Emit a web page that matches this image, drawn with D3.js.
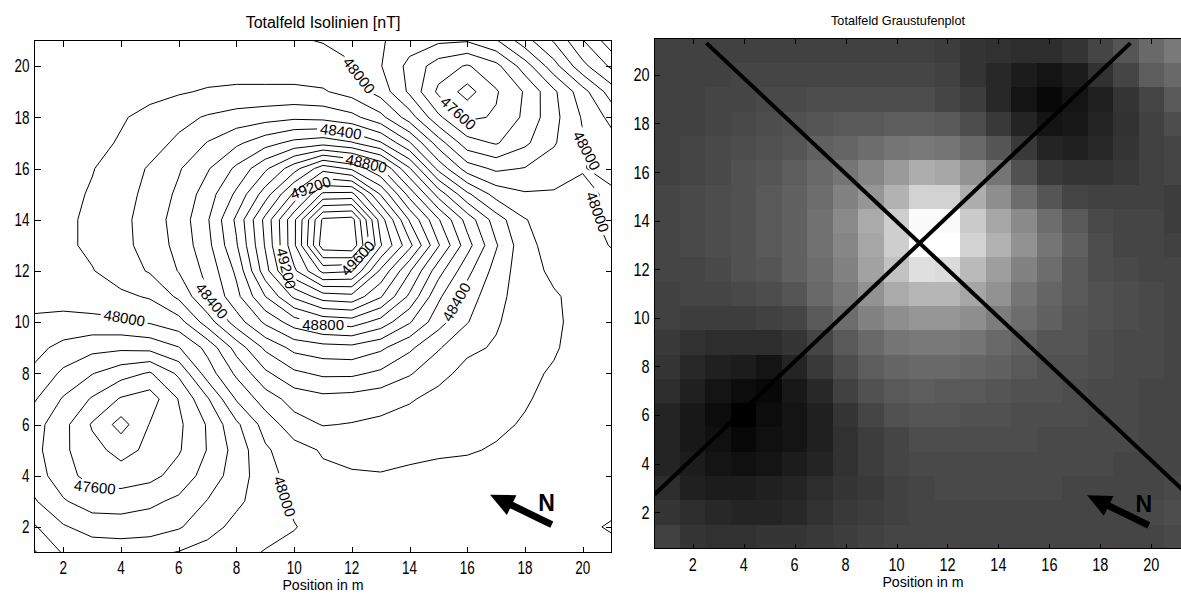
<!DOCTYPE html>
<html><head><meta charset="utf-8">
<script src="https://cdn.jsdelivr.net/npm/d3@7"></script>
<style>
html,body{margin:0;padding:0;background:#fff;}
svg{display:block;}
text{font-family:"Liberation Sans",Arial,Helvetica,sans-serif;fill:#000;}
</style></head><body>
<svg id="chart" width="1181" height="595"></svg>
<script>
// ---------------- DATA ----------------
const xPositions = [1,2,3,4,5,6,7,8,9,10,11,12,13,14,15,16,17,18,19,20,21];
const yPositions = [1,2,3,4,5,6,7,8,9,10,11,12,13,14,15,16,17,18,19,20,21];
// total field [nT], one array per grid row (y = 1 ... 21), x = 1 ... 21
const y01 = [48010,47890,47860,47870,47880,47905,47940,47975,48005,48030,48045,48050,48050,48050,48055,48055,48055,48060,48060,48065,48070];
const y02 = [47910,47810,47760,47740,47750,47790,47860,47930,47970,47995,48040,48055,48060,48060,48060,48060,48060,48060,48065,48080,48110];
const y03 = [47810,47710,47650,47660,47680,47720,47805,47880,47950,48020,48060,48070,48075,48070,48070,48070,48065,48065,48060,48060,48070];
const y04 = [47750,47640,47560,47540,47570,47640,47740,47850,47960,48040,48080,48090,48095,48085,48080,48080,48075,48070,48065,48060,48060];
const y05 = [47730,47620,47530,47470,47520,47590,47705,47840,47985,48060,48110,48130,48130,48120,48110,48105,48095,48080,48070,48060,48055];
const y06 = [47740,47630,47490,47360,47505,47580,47710,47880,48040,48160,48205,48195,48180,48160,48140,48120,48110,48095,48080,48065,48055];
const y07 = [47810,47690,47590,47490,47450,47605,47790,48010,48150,48240,48270,48260,48240,48210,48170,48150,48130,48105,48085,48065,48055];
const y08 = [47880,47780,47705,47640,47590,47720,47950,48120,48280,48380,48420,48420,48380,48310,48230,48170,48150,48110,48095,48070,48060];
const y09 = [47930,47870,47830,47820,47830,47895,48030,48240,48420,48530,48560,48570,48520,48420,48310,48220,48190,48140,48105,48080,48060];
const y10 = [47990,47970,47970,47980,48010,48060,48250,48450,48620,48750,48830,48850,48760,48610,48440,48305,48210,48150,48110,48080,48060];
const y11 = [48020,48040,48060,48080,48110,48220,48395,48570,48800,49020,49150,49170,49010,48780,48520,48350,48230,48150,48110,48070,48050];
const y12 = [48030,48060,48095,48150,48210,48305,48430,48620,48960,49280,49530,49510,49180,48910,48640,48430,48260,48140,48080,48060,48040];
const y13 = [48040,48080,48120,48170,48240,48330,48470,48690,49010,49380,49860,49880,49410,49130,48810,48540,48310,48130,48060,48040,47995];
const y14 = [48040,48080,48120,48170,48250,48340,48490,48720,49030,49380,49820,49840,49350,48990,48710,48460,48250,48105,48050,48030,47970];
const y15 = [48030,48070,48110,48160,48230,48320,48450,48620,48850,49120,49420,49430,49090,48760,48460,48220,48060,48010,48010,48020,47985];
const y16 = [48020,48060,48095,48150,48210,48290,48390,48520,48680,48860,49060,48980,48810,48510,48170,47950,47880,47905,47950,47995,48030];
const y17 = [48010,48040,48070,48110,48160,48220,48305,48380,48460,48530,48560,48510,48410,48210,47950,47740,47690,47780,47890,47990,48060];
const y18 = [48005,48020,48050,48090,48130,48170,48210,48240,48260,48280,48270,48230,48130,47950,47720,47580,47610,47720,47870,48010,48130];
const y19 = [48005,48010,48030,48050,48070,48090,48110,48120,48120,48120,48110,48060,47960,47780,47580,47460,47590,47710,47880,48060,48250];
const y20 = [48010,48015,48020,48030,48035,48040,48050,48050,48050,48050,48040,48005,47905,47770,47650,47590,47670,47850,48060,48270,48420];
const y21 = [48010,48010,48015,48020,48020,48020,48020,48020,48015,48010,47995,47980,47910,47850,47820,47810,47890,48060,48210,48395,48560];
const gridRows = [y01,y02,y03,y04,y05,y06,y07,y08,y09,y10,y11,y12,y13,y14,y15,y16,y17,y18,y19,y20,y21];

const contourLevels = [47400,47500,47600,47700,47800,47900,48000,48100,48200,48300,48400,48500,48600,48700,48800,48900,49000,49100,49200,49300,49400,49500,49600,49700,49800];
const tickValues = [2,4,6,8,10,12,14,16,18,20];

// contour labels: level and approximate anchor (data units)
const labelLevel = [48000,47600,48000,48400,48800,48400,49200,49600,49200,48800,48400,48000,47600,48000,48000];
const labelX     = [4.1,  3.1,  9.7,  7.0,  11.0, 15.6, 9.4,  12.3, 10.8, 12.5, 11.6, 12.2, 15.8, 19.95,20.6];
const labelY     = [10.1, 3.7,  3.2,  10.7, 9.8,  10.8, 12.0, 12.4, 14.9, 16.2, 17.3, 19.6, 18.3, 16.7, 14.3];

// profile lines drawn on the grey-scale plot (data units)
const profileA = [[2.54,21.31],[21.5,2.65]];
const profileB = [[0.5,2.72],[19.18,21.31]];
// north arrows (data units of each panel): tail, tip, letter position
const arrowLeft  = [[18.93,2.09],[16.79,3.26],[18.75,2.95]];
const arrowRight = [[19.90,1.45],[17.48,2.69],[19.71,2.36]];

// ---------------- LAYOUT ----------------
const svg = d3.select('#chart');
const xL = d3.scaleLinear().domain([1,21]).range([34.5,611.5]);
const yL = d3.scaleLinear().domain([1,21]).range([552.5,40.5]);
const xR = d3.scaleLinear().domain([0.5,21.5]).range([654.5,1189.5]);
const yR = d3.scaleLinear().domain([0.5,21.5]).range([548.5,38.5]);

function txt(g, x, y, s, size, opts={}) {
  const sy = opts.sy || 1;
  return g.append('text')
    .attr('transform', `translate(${x},${y}) scale(1,${sy})`)
    .attr('text-anchor', opts.anchor || 'middle')
    .attr('dy', '0.36em')
    .style('font-size', size + 'px')
    .style('font-weight', opts.weight || 'normal')
    .text(s);
}

const defs = svg.append('defs');
defs.append('clipPath').attr('id','clipL').append('rect')
  .attr('x', xL(1)).attr('y', yL(21)).attr('width', xL(21)-xL(1)).attr('height', yL(1)-yL(21));
defs.append('clipPath').attr('id','clipR').append('rect')
  .attr('x', xR(0.5)).attr('y', yR(21.5)).attr('width', xR(21.5)-xR(0.5)).attr('height', yR(0.5)-yR(21.5));

// ---------------- GREY-SCALE PLOT ----------------
const flat = [].concat(...gridRows);
const vMin = d3.min(flat), vMax = d3.max(flat);
const grayOf = v => {
  const k = Math.min(63, Math.floor((v - vMin) / (vMax - vMin) * 64));
  const g = Math.round(k / 63 * 255);
  return `rgb(${g},${g},${g})`;
};
const cells = [];
gridRows.forEach((row, j) => row.forEach((v, i) => cells.push({x: xPositions[i], y: yPositions[j], v})));
const gR = svg.append('g').attr('clip-path','url(#clipR)');
gR.selectAll('rect.cell').data(cells).join('rect').attr('class','cell')
  .attr('x', d => xR(d.x - 0.5)).attr('y', d => yR(d.y + 0.5))
  .attr('width', d => xR(d.x + 0.5) - xR(d.x - 0.5) + 0.4)
  .attr('height', d => yR(d.y - 0.5) - yR(d.y + 0.5) + 0.4)
  .attr('fill', d => grayOf(d.v)).attr('shape-rendering','crispEdges');
[profileA, profileB].forEach(p => {
  gR.append('line').attr('x1', xR(p[0][0])).attr('y1', yR(p[0][1]))
    .attr('x2', xR(p[1][0])).attr('y2', yR(p[1][1]))
    .attr('stroke','#000').attr('stroke-width',4);
});

// ---------------- CONTOUR PLOT ----------------
const contourSets = d3.contours().size([21,21]).thresholds(contourLevels)(flat);
const proj = d3.geoTransform({ point: function(x, y) { this.stream.point(xL(x + 0.5), yL(y + 0.5)); } });
const cpath = d3.geoPath(proj);
const toPx = c => [xL(c[0] + 0.5), yL(c[1] + 0.5)];

// label placement on the computed contour lines
function nearestOnLevel(level, px, py) {
  const cont = contourSets.find(c => c.value === level);
  let best = null;
  if (!cont) return null;
  cont.coordinates.forEach(poly => poly.forEach(ring => {
    const pts = ring.map(toPx);
    for (let i = 0; i < pts.length - 1; i++) {
      const a = pts[i], b = pts[i+1];
      const dx = b[0]-a[0], dy = b[1]-a[1], L2 = dx*dx + dy*dy;
      if (!L2) continue;
      let t = ((px-a[0])*dx + (py-a[1])*dy) / L2; t = Math.max(0, Math.min(1, t));
      const qx = a[0] + t*dx, qy = a[1] + t*dy;
      if (qx < xL(1)+2 || qx > xL(21)-2 || qy < yL(21)+2 || qy > yL(1)-2) continue;
      const d = (qx-px)**2 + (qy-py)**2;
      if (!best || d < best.d) {
        const p0 = pts[Math.max(0, i-1)], p1 = pts[Math.min(pts.length-1, i+2)];
        let ang = Math.atan2(p1[1]-p0[1], p1[0]-p0[0]) * 180 / Math.PI;
        while (ang > 90) ang -= 180;
        while (ang <= -90) ang += 180;
        best = {d, x: qx, y: qy, ang};
      }
    }
  }));
  return best;
}

const gLab = svg.append('g');
const labels = [];
labelLevel.forEach((lev, i) => {
  const p = nearestOnLevel(lev, xL(labelX[i]), yL(labelY[i]));
  if (!p) return;
  const g = gLab.append('g').attr('transform', `translate(${p.x},${p.y}) rotate(${p.ang})`);
  const t = g.append('text').attr('text-anchor','middle').attr('dy','0.36em')
    .style('font-size','15px').text(String(lev));
  const w = t.node().getComputedTextLength();
  labels.push({lev, x: p.x, y: p.y, ang: p.ang, w});
});
const labeledLevels = Array.from(new Set(labels.map(d => d.lev)));
labeledLevels.forEach(lev => {
  const m = defs.append('mask').attr('id', 'mask' + lev).attr('maskUnits','userSpaceOnUse')
    .attr('x',0).attr('y',0).attr('width',1181).attr('height',595);
  m.append('rect').attr('x',0).attr('y',0).attr('width',1181).attr('height',595).attr('fill','#fff');
  labels.filter(d => d.lev === lev).forEach(d => {
    m.append('rect').attr('transform', `translate(${d.x},${d.y}) rotate(${d.ang})`)
      .attr('x', -d.w/2 - 3).attr('y', -7).attr('width', d.w + 6).attr('height', 14).attr('fill','#000');
  });
});

const gC = svg.insert('g', ':first-child').attr('clip-path','url(#clipL)');
gC.selectAll('path').data(contourSets).join('path')
  .attr('d', d => cpath(d))
  .attr('fill','none').attr('stroke','#000').attr('stroke-width',1)
  .attr('mask', d => labeledLevels.includes(d.value) ? `url(#mask${d.value})` : null);

// ---------------- AXES ----------------
function drawAxes(x, y, x0, x1, y0, y1, tickLen, fs, sy, xLabY, yLabGap) {
  const g = svg.append('g');
  g.append('rect').attr('x', x(x0)).attr('y', y(y1)).attr('width', x(x1)-x(x0)).attr('height', y(y0)-y(y1))
    .attr('fill','none').attr('stroke','#000').attr('stroke-width',1).attr('shape-rendering','crispEdges');
  tickValues.forEach(t => {
    const px = Math.round(x(t)) + 0.5, py = Math.round(y(t)) + 0.5;
    g.append('line').attr('x1',px).attr('x2',px).attr('y1',y(y0)).attr('y2',y(y0)-tickLen).attr('stroke','#000').attr('shape-rendering','crispEdges');
    g.append('line').attr('x1',px).attr('x2',px).attr('y1',y(y1)).attr('y2',y(y1)+tickLen).attr('stroke','#000').attr('shape-rendering','crispEdges');
    g.append('line').attr('y1',py).attr('y2',py).attr('x1',x(x0)).attr('x2',x(x0)+tickLen).attr('stroke','#000').attr('shape-rendering','crispEdges');
    g.append('line').attr('y1',py).attr('y2',py).attr('x1',x(x1)).attr('x2',x(x1)-tickLen).attr('stroke','#000').attr('shape-rendering','crispEdges');
    txt(g, x(t), xLabY, String(t), fs, {sy});
    txt(g, x(x0) - yLabGap, y(t), String(t), fs, {sy, anchor:'end'});
  });
  return g;
}
drawAxes(xL, yL, 1, 21, 1, 21, 6, 13.5, 1.3, 568, 5);
drawAxes(xR, yR, 0.5, 21.5, 0.5, 21.5, 5, 14.5, 1.25, 564, 5);

txt(svg, 323, 22, 'Totalfeld Isolinien [nT]', 16);
txt(svg, 898, 20, 'Totalfeld Graustufenplot', 12.7);
txt(svg, 323, 585, 'Position in m', 14.2, {sy:1.05});
txt(svg, 923, 582, 'Position in m', 14.2, {sy:1.05});

// ---------------- NORTH ARROWS ----------------
function northArrow(x, y, a) {
  const tail = [x(a[0][0]), y(a[0][1])], tip = [x(a[1][0]), y(a[1][1])];
  const dx = tip[0]-tail[0], dy = tip[1]-tail[1], L = Math.hypot(dx, dy);
  const ux = dx/L, uy = dy/L, nx = -uy, ny = ux;
  const headLen = 24, hw = 11;
  const bx = tip[0] - ux*headLen, by = tip[1] - uy*headLen;
  svg.append('line').attr('x1', tail[0]).attr('y1', tail[1]).attr('x2', bx + ux*2).attr('y2', by + uy*2)
    .attr('stroke','#000').attr('stroke-width',7);
  svg.append('path').attr('d', `M${tip[0]},${tip[1]}L${bx+nx*hw},${by+ny*hw}L${bx-nx*hw},${by-ny*hw}Z`).attr('fill','#000');
  txt(svg, x(a[2][0]), y(a[2][1]), 'N', 23, {weight:'bold'});
}
northArrow(xL, yL, arrowLeft);
northArrow(xR, yR, arrowRight);
</script>
</body></html>
